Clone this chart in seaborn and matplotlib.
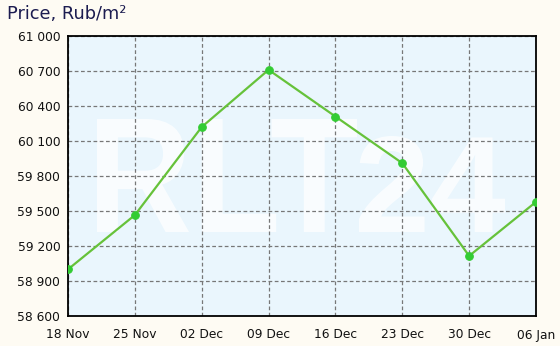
import matplotlib
matplotlib.use("Agg")
import matplotlib.pyplot as plt
import seaborn as sns
import pandas as pd
from matplotlib.textpath import TextPath
from matplotlib.patches import PathPatch
from matplotlib.font_manager import FontProperties
from matplotlib.transforms import Affine2D, IdentityTransform

dates = ["18 Nov", "25 Nov", "02 Dec", "09 Dec", "16 Dec", "23 Dec", "30 Dec", "06 Jan"]
prices = [59000, 59465, 60220, 60710, 60310, 59910, 59115, 59578]
yticks = [58600, 58900, 59200, 59500, 59800, 60100, 60400, 60700, 61000]

sns.set_style("white")
plt.rcParams['font.family'] = ['DejaVu Sans']

df = pd.DataFrame({"pos": range(len(dates)), "price": prices})

W, H = 560, 346
fig = plt.figure(figsize=(W / 100, H / 100), dpi=100, facecolor="#fefbf3")
ax = fig.add_axes([68 / W, 30 / H, 468 / W, 280 / H])
ax.set_facecolor("#eaf6fd")

# faint watermark, fitted into pixel boxes
fp = FontProperties(family="Liberation Sans", weight="bold")
def watermark(txt, x0, x1, top, bottom):
    p = TextPath((0, 0), txt, size=1, prop=fp)
    ext = p.get_extents()
    sx = (x1 - x0) / ext.width
    sy = (bottom - top) / ext.height
    tr = Affine2D().translate(-ext.x0, -ext.y0).scale(sx, sy).translate(x0, H - bottom)
    patch = PathPatch(tr.transform_path(p), facecolor="white", edgecolor="none",
                      alpha=0.72, transform=IdentityTransform(), zorder=0.2)
    ax.add_patch(patch)
    patch.set_clip_path(ax.patch)

watermark("RLT", 97, 357, 119, 232)
watermark("24", 359, 505, 136, 232)

sns.lineplot(data=df, x="pos", y="price", ax=ax, color="#66c23a", linewidth=1.6,
             marker="o", markersize=5.5, markerfacecolor="#33cc33",
             markeredgecolor="#33cc33", zorder=3)

ax.set_xlim(0, len(dates) - 1)
ax.set_ylim(58600, 61000)
ax.set_xticks(range(len(dates)))
ax.set_xticklabels(dates)
ax.set_yticks(yticks)
ax.set_yticklabels([f"{v:,}".replace(",", " ") for v in yticks])
ax.set_xlabel("")
ax.set_ylabel("")

ax.grid(True, color="#777777", linestyle=(0, (3, 2)), linewidth=0.9)
ax.set_axisbelow(True)
for s in ax.spines.values():
    s.set_visible(True)
    s.set_color("black")
    s.set_linewidth(1.3)
ax.tick_params(axis="both", direction="out", length=4, width=1.2, color="black",
               labelsize=8.8, labelcolor="#111111")
ax.tick_params(axis="y", pad=1.5)
ax.tick_params(axis="x", pad=5)

fig.text(7 / W, 1 - 14 / H, "Price, Rub/m²", fontsize=12.8, color="#1c1c50",
         ha="left", va="center")

fig.savefig("out.png", dpi=100, facecolor=fig.get_facecolor())
